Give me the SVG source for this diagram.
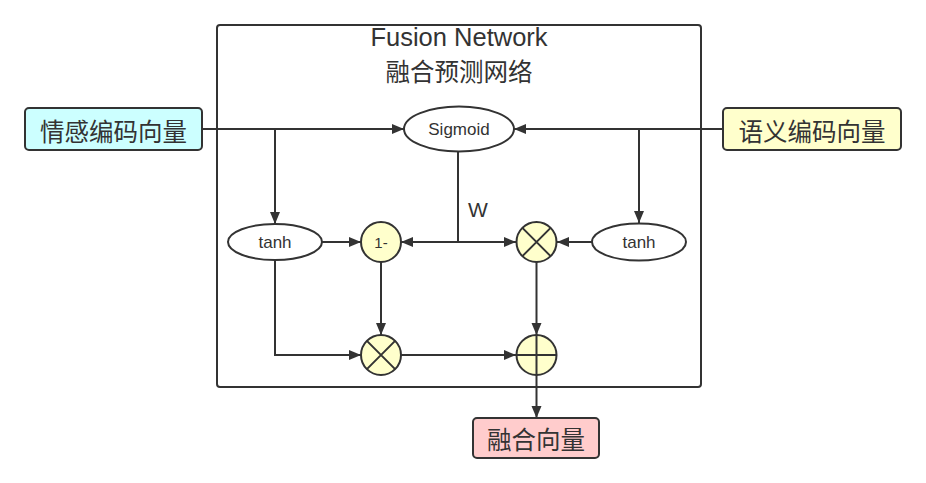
<svg xmlns="http://www.w3.org/2000/svg" width="926" height="483" viewBox="0 0 926 483">
<style>
.ln{fill:none;stroke:#333;stroke-width:2}
.arr{marker-end:url(#ah)}
.op{fill:#ffffcc;stroke:#333;stroke-width:2}
.el{fill:#fff;stroke:#333;stroke-width:2}
.t{font-family:"Liberation Sans","Noto Sans",sans-serif;fill:#333;text-anchor:middle;dominant-baseline:central}
.cn{font-family:"Noto Sans CJK SC","Liberation Sans",sans-serif;fill:#333;text-anchor:middle;dominant-baseline:central;font-size:24.5px}
.box{stroke:#333;stroke-width:2}
</style>
<defs>
<marker id="ah" markerUnits="userSpaceOnUse" markerWidth="13" markerHeight="11" refX="12" refY="5" orient="auto">
<path d="M0,0 L12,5 L0,10 z" fill="#333"/>
</marker>
</defs>
<rect width="926" height="483" fill="#fff"/>
<g id="frame">
<rect x="217" y="25" width="484" height="362" rx="3" fill="none" stroke="#333" stroke-width="2"/>
<text class="t" x="459" y="37" font-size="25.5">Fusion Network</text>
<text class="cn" x="459" y="70">融合预测网络</text>
</g>
<g id="connectors">
<path class="ln arr" d="M202,129 H404"/>
<path class="ln arr" d="M275,129 V224"/>
<path class="ln arr" d="M723,129 H514"/>
<path class="ln arr" d="M639,129 V223"/>
<path class="ln" d="M458,152 V242"/>
<path class="ln arr" d="M458,242 H401"/>
<path class="ln arr" d="M458,242 H516"/>
<path class="ln arr" d="M322,242 H361"/>
<path class="ln arr" d="M592,242 H557"/>
<path class="ln arr" d="M275,260 V355 H361"/>
<path class="ln arr" d="M381,262 V335"/>
<path class="ln arr" d="M536.5,262 V335"/>
<path class="ln arr" d="M401,355 H516"/>
<path class="ln arr" d="M536.5,375 V418"/>
<text class="t" x="478" y="209" font-size="21">W</text>
</g>
<g id="emotion">
<rect class="box" x="25" y="108" width="177" height="42" rx="4" fill="#ccffff"/>
<text class="cn" x="113.5" y="130">情感编码向量</text>
</g>
<g id="semantic">
<rect class="box" x="723" y="108" width="178" height="42" rx="4" fill="#ffffcc"/>
<text class="cn" x="812" y="130">语义编码向量</text>
</g>
<g id="output">
<rect class="box" x="473" y="418" width="126" height="40" rx="4" fill="#ffcccc"/>
<text class="cn" x="536" y="438">融合向量</text>
</g>
<g id="sigmoid">
<ellipse class="el" cx="459" cy="129" rx="55" ry="22.5"/>
<text class="t" x="459" y="129" font-size="17">Sigmoid</text>
</g>
<g id="tanh-left">
<ellipse class="el" cx="275" cy="242" rx="47" ry="18"/>
<text class="t" x="275" y="242" font-size="17">tanh</text>
</g>
<g id="tanh-right">
<ellipse class="el" cx="639" cy="242" rx="47" ry="18.5"/>
<text class="t" x="639" y="242" font-size="17">tanh</text>
</g>
<g id="one-minus">
<circle class="op" cx="381" cy="242" r="20"/>
<text class="t" x="381" y="242" font-size="15">1-</text>
</g>
<g id="mul-top">
<circle class="op" cx="536.5" cy="242" r="20"/>
<path class="ln" d="M522.4,227.9 L550.6,256.1 M550.6,227.9 L522.4,256.1"/>
</g>
<g id="mul-bottom">
<circle class="op" cx="381" cy="355" r="20"/>
<path class="ln" d="M366.9,340.9 L395.1,369.1 M395.1,340.9 L366.9,369.1"/>
</g>
<g id="add">
<circle class="op" cx="536.5" cy="355" r="20"/>
<path class="ln" d="M516.5,355 H556.5 M536.5,335 V375"/>
</g>
</svg>
